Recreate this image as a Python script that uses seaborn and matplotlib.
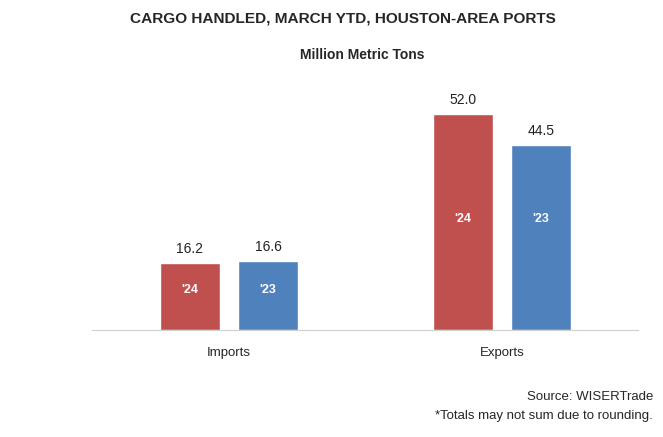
import pandas as pd
import seaborn as sns
import matplotlib.pyplot as plt

# data (million metric tons)
categories = ['Imports', 'Exports']
years = ["'24", "'23"]
values_24 = [16.2, 52.0]
values_23 = [16.6, 44.5]
colors = ['#C0504D', '#4F81BD']

df = pd.DataFrame({
    'Flow': categories * 2,
    'Year': [years[0]] * 2 + [years[1]] * 2,
    'Tons': values_24 + values_23,
})

sns.set_style('white')
plt.rcParams['font.family'] = ['Liberation Sans', 'DejaVu Sans']

fig = plt.figure(figsize=(6.63, 4.37), dpi=100)
ax = fig.add_axes([0.1395, 0.2449, 0.8235, 0.5704])

sns.barplot(data=df, x='Flow', y='Tons', hue='Year', hue_order=years,
            palette=colors, width=0.572, gap=0.23, legend=False, ax=ax,
            saturation=1)

# year labels sit at the same height inside both bars of a group
low = [min(a, b) for a, b in zip(values_24, values_23)]
for cont, yr in zip(ax.containers, years):
    ax.bar_label(cont, fmt='%.1f', padding=5, fontsize=10, color='#222222')
    for bar, m in zip(cont, low):
        ax.text(bar.get_x() + bar.get_width() / 2, 0.6 * m, yr,
                ha='center', va='center', color='white',
                fontweight='bold', fontsize=9)

ax.set_ylim(0, 60)
ax.set_xlim(-0.5, 1.5)
ax.set_yticks([])
ax.set_xlabel('')
ax.set_ylabel('')
ax.tick_params(axis='x', length=0, pad=12, labelsize=9.5)
for s in ['top', 'left', 'right']:
    ax.spines[s].set_visible(False)
ax.spines['bottom'].set_color('#d0d0d0')

fig.text(0.517, 0.958, 'CARGO HANDLED, MARCH YTD, HOUSTON-AREA PORTS',
         ha='center', va='center', fontsize=11.1, fontweight='bold')
fig.text(0.546, 0.874, 'Million Metric Tons', ha='center', va='center',
         fontsize=10, fontweight='bold')
fig.text(0.985, 0.092, 'Source: WISERTrade', ha='right', va='center', fontsize=9.5)
fig.text(0.985, 0.049, '*Totals may not sum due to rounding.', ha='right',
         va='center', fontsize=9.5)

fig.savefig('out.png', dpi=100)
